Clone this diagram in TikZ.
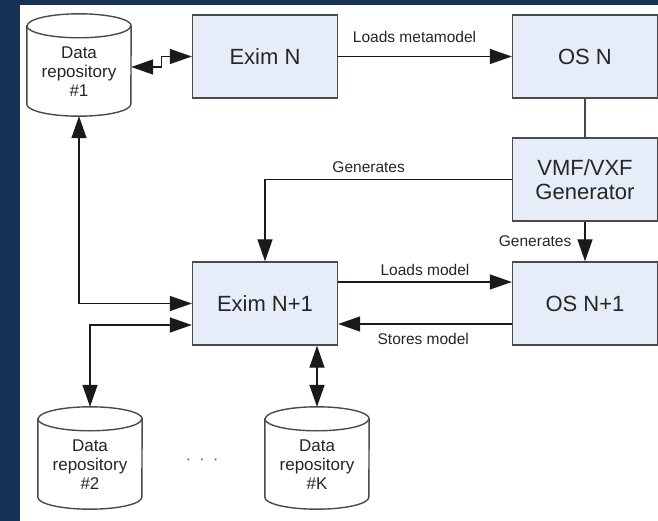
\documentclass[tikz,border=0pt]{standalone}
\usepackage{fontspec}
\setmainfont{Liberation Sans}
\usetikzlibrary{arrows.meta}

\definecolor{navy}{HTML}{163256}
\definecolor{boxfill}{HTML}{E6ECF8}
\definecolor{ink}{HTML}{262626}
\definecolor{wire}{HTML}{1A1A1A}
\definecolor{edge}{HTML}{4A4A4A}
\definecolor{dotgray}{HTML}{606060}

\tikzset{
  proc/.style={draw=edge, line width=1.4pt, fill=boxfill, text=ink,
    minimum width=145pt, minimum height=83pt, inner sep=0pt, align=center,
    font=\fontsize{22}{24}\selectfont},
  repo/.style={minimum width=104pt, minimum height=102pt, inner sep=0pt},
  repotext/.style={text=ink, align=center, inner sep=0pt,
    font=\fontsize{17}{19}\selectfont},
  lbl/.style={text=ink, inner sep=0pt, font=\fontsize{15.5}{18}\selectfont},
  tip/.tip={Triangle[length=22pt,width=15pt]},
  flow/.style={draw=wire, line width=1.4pt, -tip},
  both/.style={draw=wire, line width=1.4pt, tip-tip},
  plain/.style={draw=edge, line width=1.4pt},
  repoline/.style={draw=edge, line width=1.4pt},
}

% cylinder outline drawn over the bounds of a named node
\newcommand{\reposhape}[1]{%
  \draw[repoline, fill=white] ([yshift=-12pt]#1.north west) -- ([yshift=12pt]#1.south west)
    arc[start angle=180, end angle=360, x radius=52pt, y radius=12pt]
    -- ([yshift=-12pt]#1.north east)
    arc[start angle=0, end angle=180, x radius=52pt, y radius=12pt] -- cycle;
  \draw[repoline] ([yshift=-12pt]#1.north west)
    arc[start angle=180, end angle=360, x radius=52pt, y radius=12pt];
}

\begin{document}
\begin{tikzpicture}[x=1pt, y=-1pt]
  % backdrop and page
  \useasboundingbox (0,0) rectangle (658,521);
  \fill[navy] (0,0) rectangle (658,521);
  \fill[white] (20,5) rectangle (658,521);

  % process boxes
  \node[proc] (eximn)  at (265,56.5)  {Exim N};
  \node[proc] (osn)    at (585,56.5)  {OS N};
  \node[proc] (vmf)    at (585,179.5) {VMF/VXF\\Generator};
  \node[proc] (eximn1) at (265,303.5) {Exim N+1};
  \node[proc] (osn1)   at (585,303.5) {OS N+1};

  % data repositories
  \node[repo] (dr1) at (79,65) {};
  \reposhape{dr1}
  \node[repotext] (dr1t) at ([yshift=-7pt]dr1.center) {Data\\repository\\\#1};

  \node[repo] (dr2) at (90,458) {};
  \reposhape{dr2}
  \node[repotext] (dr2t) at ([yshift=-7pt]dr2.center) {Data\\repository\\\#2};

  \node[repo] (drk) at (317,458) {};
  \reposhape{drk}
  \node[repotext] (drkt) at ([yshift=-7pt]drk.center) {Data\\repository\\\#K};

  \node[text=dotgray, inner sep=0pt, font=\fontsize{17}{19}\selectfont] (dots) at (202,462)
    {·\hspace{8pt}·\hspace{8pt}·};

  % connectors
  \draw[both] ([yshift=-2pt]dr1.east) -- ++(30,0) |- (eximn.west);
  \draw[flow] (eximn.east) -- node[lbl, pos=0.44, above=13pt] {Loads metamodel} (osn.west);
  \draw[plain] (osn.south) -- (vmf.north);
  \draw[flow] (vmf.west) -| node[lbl, pos=0.29, above=6pt] {Generates} (eximn1.north);
  \draw[flow] (vmf.south) -- node[lbl, anchor=east, xshift=-13pt] {Generates} (osn1.north);
  \draw[flow] ([yshift=21.5pt]eximn1.east) -- node[lbl, above=6pt] {Loads model} ([yshift=21.5pt]osn1.west);
  \draw[flow] ([yshift=-20.5pt]osn1.west) -- node[lbl, pos=0.51, below=9pt] {Stores model} ([yshift=-20.5pt]eximn1.east);
  \draw[both] (dr1.south) |- (eximn1.west);
  \draw[both] ([yshift=-21.5pt]eximn1.west) -| (dr2.north);
  \draw[both] (eximn1.south -| drk.north) -- (drk.north);
\end{tikzpicture}
\end{document}
